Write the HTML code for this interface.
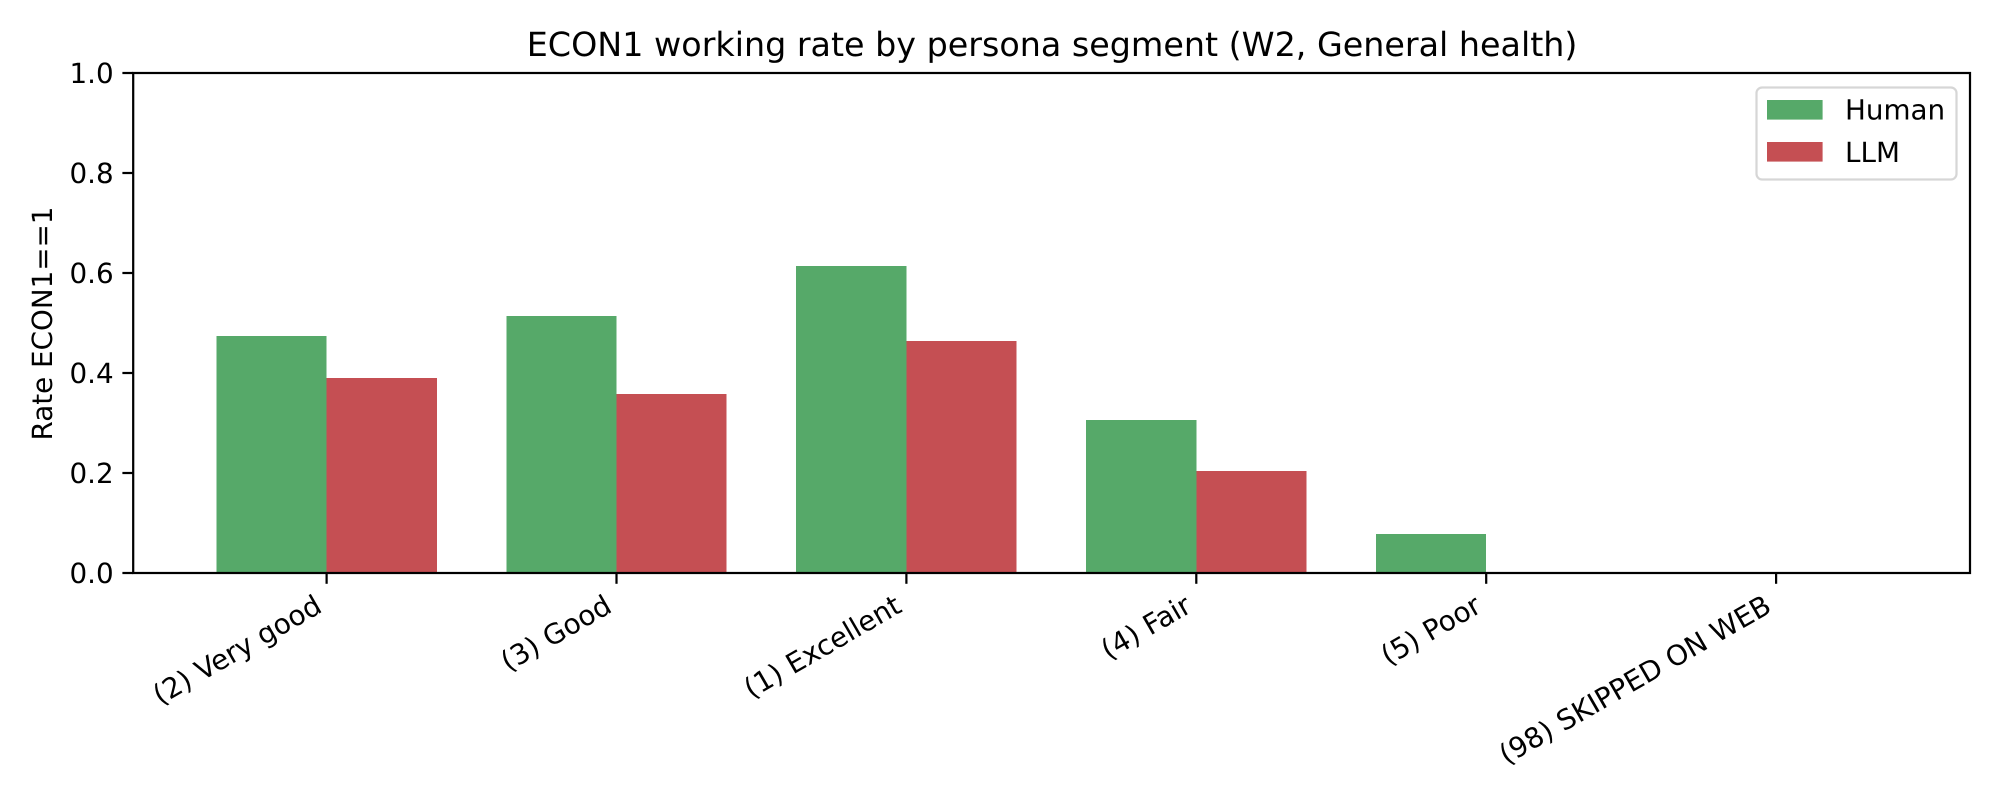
<!DOCTYPE html>
<html lang="en">
<head>
<meta charset="utf-8">
<title>ECON1 working rate by persona segment</title>
<style>
  html, body { margin: 0; padding: 0; background: #fff; width: 2000px; height: 800px; overflow: hidden; }
  svg { display: block; }
  text { font-family: "DejaVu Sans", "Liberation Sans", sans-serif; fill: #000; text-rendering: geometricPrecision; }
</style>
</head>
<body>
<svg id="chart" xmlns="http://www.w3.org/2000/svg" width="2000" height="800" viewBox="0 0 2000 800">
  <rect x="0" y="0" width="2000" height="800" fill="#ffffff"/>
  <g id="bars"></g>
  <g id="x-axis"></g>
  <g id="y-axis"></g>
  <g id="spines">
    <rect x="133.2" y="73" width="1836.8" height="500" fill="none" stroke="#000" stroke-width="2.22"/>
  </g>
  <text x="1052.1" y="56" font-size="33.33" text-anchor="middle">ECON1 working rate by persona segment (W2, General health)</text>
  <text transform="translate(51.8 323.5) rotate(-90)" font-size="27.78" text-anchor="middle">Rate ECON1==1</text>
  <g id="legend">
    <rect x="1756.5" y="87.5" width="200" height="92" rx="5.6" ry="5.6" fill="#ffffff" fill-opacity="0.8" stroke="#cccccc" stroke-opacity="0.8" stroke-width="2.22"/>
    <rect x="1767" y="100" width="55.6" height="19.6" fill="#56A969"/>
    <text x="1845" y="119.4" font-size="27.78">Human</text>
    <rect x="1767" y="142" width="55.6" height="19.6" fill="#C54F53"/>
    <text x="1845" y="162.2" font-size="27.78">LLM</text>
  </g>
</svg>
<script>
var categories = ["(2) Very good", "(3) Good", "(1) Excellent", "(4) Fair", "(5) Poor", "(98) SKIPPED ON WEB"];
var humanValues = [0.474, 0.514, 0.614, 0.306, 0.078, 0];
var llmValues = [0.39, 0.358, 0.464, 0.204, 0, 0];
var yTicks = [0, 0.2, 0.4, 0.6, 0.8, 1];
var yTickLabels = ["0.0", "0.2", "0.4", "0.6", "0.8", "1.0"];

var NS = "http://www.w3.org/2000/svg";
var plotLeft = 133.2, plotRight = 1970, plotTop = 73, plotBottom = 573;
var barWidth = 0.38;
var xMin = -barWidth - 0.05 * (categories.length - 1 + 2 * barWidth);
var xMax = categories.length - 1 + barWidth + 0.05 * (categories.length - 1 + 2 * barWidth);

function xScale(v) { return plotLeft - 0.25 + (v - xMin) / (xMax - xMin) * (plotRight - plotLeft); }
function yScale(v) { return plotBottom - v * (plotBottom - plotTop); }

var barsGroup = document.getElementById("bars");
var xAxisGroup = document.getElementById("x-axis");
var yAxisGroup = document.getElementById("y-axis");

function addBar(i, value, offset, color, seriesName) {
  var el = document.createElementNS(NS, "rect");
  var x0 = xScale(i + offset);
  var x1 = xScale(i + offset + barWidth);
  el.setAttribute("x", x0);
  el.setAttribute("y", yScale(value));
  el.setAttribute("width", x1 - x0);
  el.setAttribute("height", yScale(0) - yScale(value));
  el.setAttribute("fill", color);
  el.setAttribute("shape-rendering", "crispEdges");
  
  
  barsGroup.appendChild(el);
}

categories.forEach(function (cat, i) {
  addBar(i, humanValues[i], -barWidth, "#56A969", "human");
  addBar(i, llmValues[i], 0, "#C54F53", "llm");

  var tx = xScale(i);
  var tick = document.createElementNS(NS, "line");
  tick.setAttribute("x1", tx);
  tick.setAttribute("x2", tx);
  tick.setAttribute("y1", plotBottom);
  tick.setAttribute("y2", plotBottom + 10.8);
  tick.setAttribute("stroke", "#000");
  tick.setAttribute("stroke-width", "2.22");
  
  
  xAxisGroup.appendChild(tick);

  var label = document.createElementNS(NS, "text");
  label.setAttribute("transform", "translate(" + (tx - 3) + " 611) rotate(-30)");
  label.setAttribute("text-anchor", "end");
  label.setAttribute("font-size", "27.9");
  label.textContent = cat;
  
  
  xAxisGroup.appendChild(label);
});

yTicks.forEach(function (t, i) {
  var ty = yScale(t);
  var tick = document.createElementNS(NS, "line");
  tick.setAttribute("x1", plotLeft - 10.8);
  tick.setAttribute("x2", plotLeft);
  tick.setAttribute("y1", ty);
  tick.setAttribute("y2", ty);
  tick.setAttribute("stroke", "#000");
  tick.setAttribute("stroke-width", "2.22");
  
  
  yAxisGroup.appendChild(tick);

  var label = document.createElementNS(NS, "text");
  label.setAttribute("x", plotLeft - 19.5);
  label.setAttribute("y", ty + 10.2);
  label.setAttribute("text-anchor", "end");
  label.setAttribute("font-size", "27.78");
  label.textContent = yTickLabels[i];
  
  
  yAxisGroup.appendChild(label);
});
</script>
</body>
</html>
